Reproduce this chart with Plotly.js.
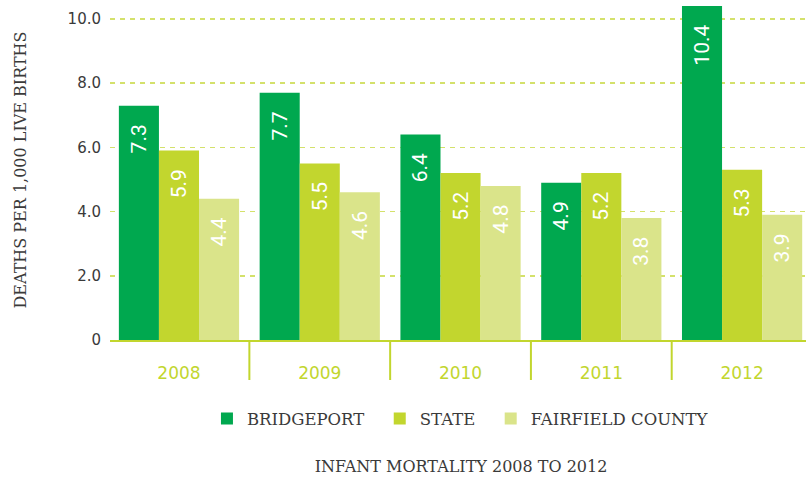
<!DOCTYPE html>
<html>
<head>
<meta charset="utf-8">
<script src="https://cdn.plot.ly/plotly-3.0.1.min.js"></script>
<style>html,body{margin:0;padding:0;background:#fff;}#chart{width:806px;height:478px;}</style>
</head>
<body>
<div id="chart"></div>
<script>
var years = ['2008', '2009', '2010', '2011', '2012'];
var bridgeport = [7.3, 7.7, 6.4, 4.9, 10.4];
var state = [5.9, 5.5, 5.2, 5.2, 5.3];
var fairfield = [4.4, 4.6, 4.8, 3.8, 3.9];
var seriesNames = ['BRIDGEPORT', 'STATE', 'FAIRFIELD COUNTY'];
var yTickVals = [0, 2, 4, 6, 8, 10];
var yTickText = ['0', '2.0', '4.0', '6.0', '8.0', '10.0'];

var colors = ['#00a84f', '#c2d62e', '#dae48a'];
var pad = '\u00a0\u00a0\u00a0';
var xRange = [-0.49, 4.454];
var accent = '#c2d62e';

function mk(vals, name, color) {
  return {
    type: 'bar',
    x: years,
    y: vals,
    name: name + '\u00a0\u00a0',
    marker: {color: color, line: {width: 0}},
    text: vals.map(function (v) { return v.toFixed(1) + pad; }),
    textposition: 'inside',
    insidetextanchor: 'end',
    textangle: -90,
    textfont: {family: 'Roboto', size: 21, color: '#ffffff'},
    hoverinfo: 'none'
  };
}

var data = [
  mk(bridgeport, seriesNames[0], colors[0]),
  mk(state, seriesNames[1], colors[1]),
  mk(fairfield, seriesNames[2], colors[2])
];

// divider lines between the year groups (category boundaries)
var dividerShapes = years.slice(1).map(function (_, i) {
  return {
    type: 'line', xref: 'x', yref: 'paper',
    x0: i + 0.5, x1: i + 0.5, y0: 0, y1: -40 / 340,
    line: {color: accent, width: 2}
  };
});

var layout = {
  width: 806,
  height: 478,
  margin: {l: 110, r: 0, t: 0, b: 138, pad: 0},
  paper_bgcolor: '#ffffff',
  plot_bgcolor: '#ffffff',
  barmode: 'group',
  bargap: 0.146,
  bargroupgap: 0,
  showlegend: true,
  shapes: dividerShapes,
  legend: {
    orientation: 'h',
    x: 0.51, xanchor: 'center',
    y: -0.232, yanchor: 'middle',
    font: {family: 'DejaVu Serif', size: 16.5, color: '#3a3a3a'},
    traceorder: 'normal'
  },
  title: {
    text: 'INFANT MORTALITY 2008 TO 2012',
    font: {family: 'DejaVu Serif', size: 16, color: '#3a3a3a'},
    x: 0.572, xanchor: 'center',
    y: 0.025, yanchor: 'middle',
    yref: 'container', xref: 'container'
  },
  xaxis: {
    type: 'category',
    range: xRange,
    showgrid: false,
    zeroline: false,
    showline: true,
    linecolor: accent,
    linewidth: 2,
    ticks: '',
    ticklabelstandoff: 17,
    tickfont: {family: 'DejaVu Sans', size: 17, color: accent},
    fixedrange: true
  },
  yaxis: {
    range: [0, 10.59],
    tickvals: yTickVals,
    ticktext: yTickText,
    showgrid: true,
    gridcolor: '#d4e16b',
    gridwidth: 1.5,
    griddash: '5px,5px',
    zeroline: false,
    showline: false,
    ticks: '',
    ticklabelstandoff: 8,
    tickfont: {family: 'DejaVu Sans', size: 15, color: '#3a3a3a'},
    title: {
      text: 'DEATHS PER 1,000 LIVE BIRTHS',
      font: {family: 'DejaVu Serif', size: 16, color: '#3a3a3a'},
      standoff: 36
    },
    automargin: false,
    fixedrange: true
  }
};

Plotly.newPlot('chart', data, layout, {displayModeBar: false, staticPlot: true});
</script>
</body>
</html>
